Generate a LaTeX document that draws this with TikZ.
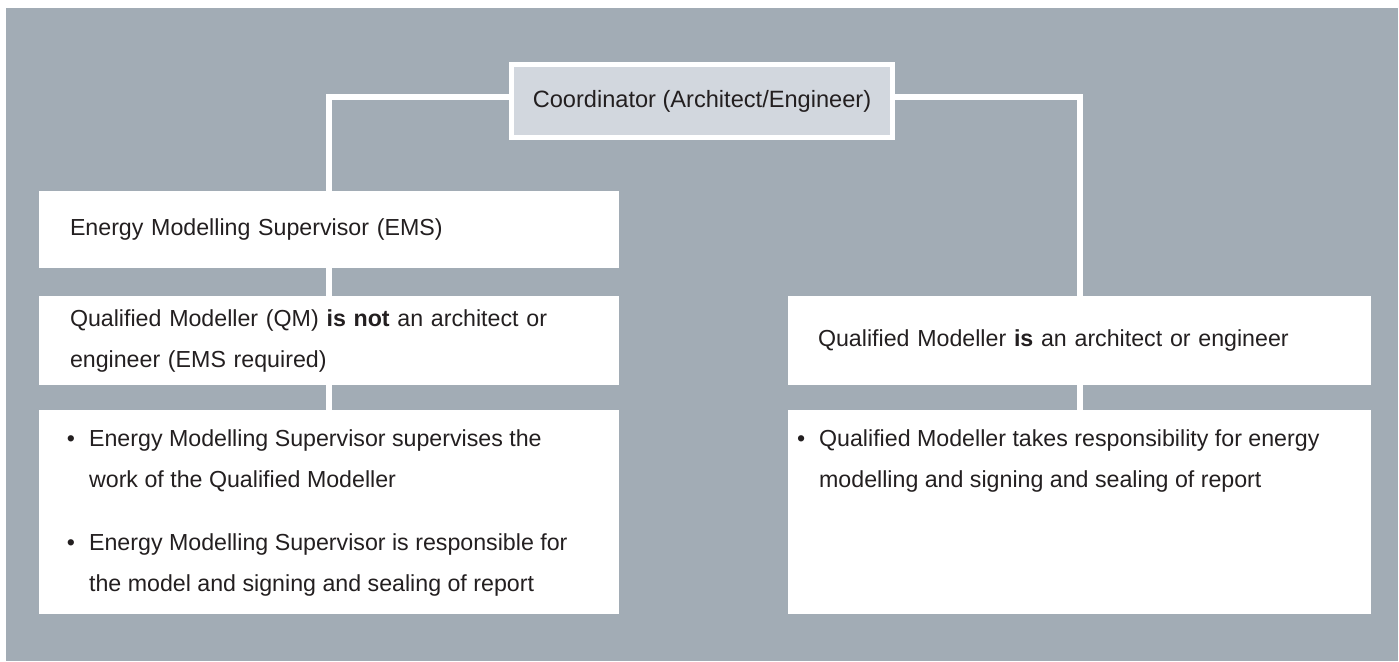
\documentclass[tikz,border=0pt]{standalone}
\usepackage{fontspec}
\setmainfont{Liberation Sans}
\definecolor{panel}{HTML}{A2ACB5}
\definecolor{headfill}{HTML}{D2D7DE}
\definecolor{ink}{HTML}{231F20}
\tikzset{
  bodyfont/.style={font=\fontsize{11.6}{20.5}\selectfont, text=ink},
  box/.style={bodyfont, fill=white, inner ysep=0pt, align=left},
  head/.style={font=\fontsize{11.8}{20.5}\selectfont, text=ink, fill=headfill,
    draw=white, line width=2.5pt, minimum width=190.5pt, minimum height=36.5pt},
  link/.style={draw=white, line width=3pt}
}

\begin{document}
\begin{tikzpicture}[x=0.5pt,y=-0.5pt]
    \useasboundingbox (0,0) rectangle (1399,661);
    \fill[panel] (6,8) rectangle (1398,661);
    % coordinator
    \node[head] (coord) at (702,101) {Coordinator (Architect/Engineer)};
    % left column
    \node[box, text width=259pt, inner xsep=15.5pt, minimum height=38.5pt]
      (ems) at (329,229.5) {Energy Modelling Supervisor (EMS)};
    \node[box, text width=259pt, inner xsep=15.5pt, minimum height=44.5pt]
      (qmL) at (329,340.5) {Qualified Modeller (QM) \textbf{is not} an architect or\\
        engineer (EMS required)};
    \node[box, inner xsep=14pt, inner ysep=3.65pt] (dutyL) at (329,512)
      {\parbox[c][94.7pt][t]{262pt}{%
        \begin{tabular}{@{}l@{\hspace{7pt}}l@{}}
          \textbullet & Energy Modelling Supervisor supervises the\\
                      & work of the Qualified Modeller\\[11pt]
          \textbullet & Energy Modelling Supervisor is responsible for\\
                      & the model and signing and sealing of report
        \end{tabular}}};
    % right column
    \node[box, text width=261.5pt, inner xsep=15pt, minimum height=44.5pt]
      (qmR) at (1079.5,340.5) {Qualified Modeller \textbf{is} an architect or engineer};
    \node[box, inner xsep=4.5pt, inner ysep=3.65pt] (dutyR) at (1079.5,512)
      {\parbox[c][94.7pt][t]{282.5pt}{%
        \begin{tabular}{@{}l@{\hspace{7pt}}l@{}}
          \textbullet & Qualified Modeller takes responsibility for energy\\
                      & modelling and signing and sealing of report
        \end{tabular}}};
    % connectors
    \draw[link] ([yshift=2pt]coord.west) -| (ems.north);
    \draw[link] ([yshift=2pt]coord.east) -| (qmR.north);
    \draw[link] (ems.south) -- (qmL.north);
    \draw[link] (qmL.south) -- (dutyL.north);
    \draw[link] (qmR.south) -- (dutyR.north);
\end{tikzpicture}
\end{document}
